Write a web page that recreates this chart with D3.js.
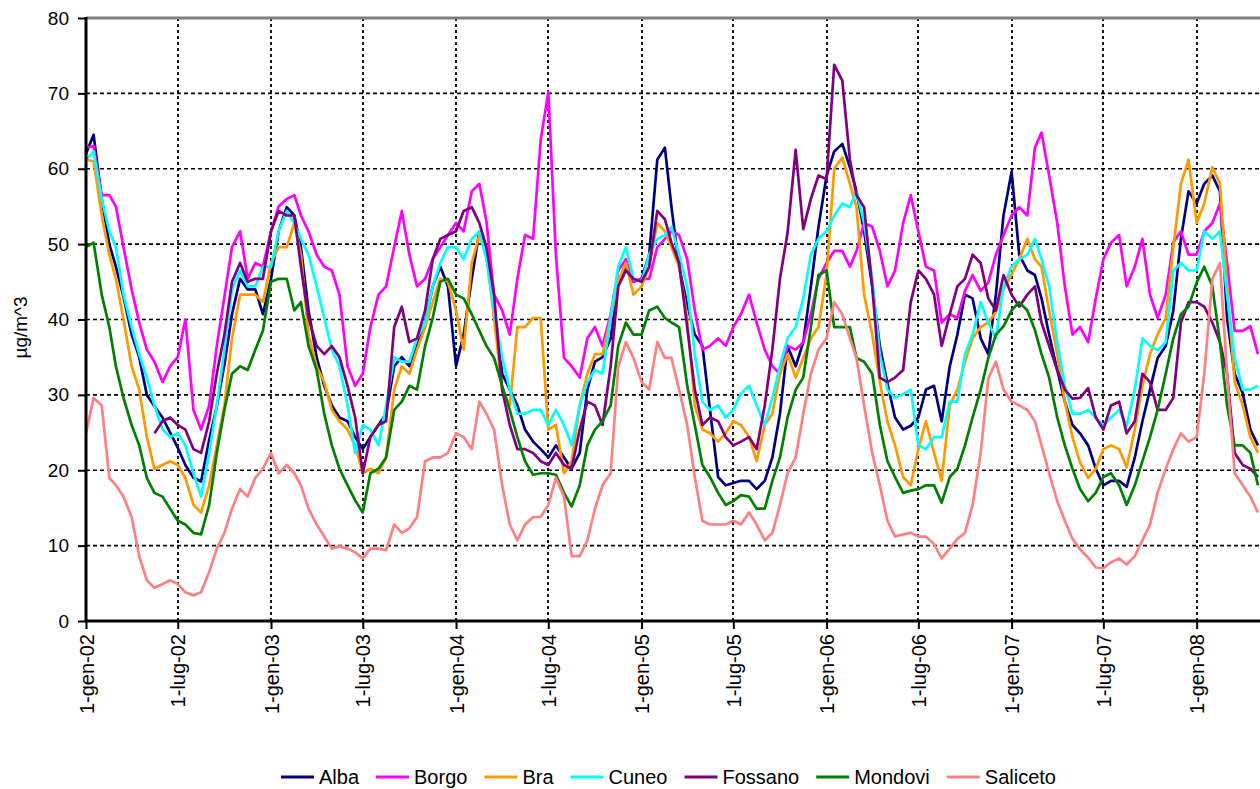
<!DOCTYPE html>
<html>
<head>
<meta charset="utf-8">
<script src="https://cdn.jsdelivr.net/npm/d3@7"></script>
<style>
  html, body { margin: 0; padding: 0; background: #fff; }
  svg { display: block; font-family: "Liberation Sans", Arial, sans-serif; }
</style>
</head>
<body>
<svg id="chart" width="1260" height="789"></svg>
<script>
// Stations and their line colours (legend order = drawing order)
const stations = ["Alba", "Borgo", "Bra", "Cuneo", "Fossano", "Mondovi", "Saliceto"];
const stationColors = ["#000080", "#FF00FF", "#FF9900", "#00FFFF", "#800080", "#008000", "#FF8080"];

// Semi-monthly readings (1st and 16th of each month) from 1 Jan 2002, µg/m^3
const alba = [
  62, 64.5, 56, 50, 47, 43, 38, 35, 30, 28.5, 27, 25, 23, 20.7, 19, 18.5, 24, 28.5, 34, 40.7, 45.4, 44, 44, 40.7, 45.4, 51.7,
  54.9, 53.8, 49.6, 41.2, 35, 31.2, 28.6, 27, 26.5, 24.4, 22.8, 24.4, 26, 27.5, 33.8, 35, 33.8, 36.5, 39.6, 44.4, 47, 44.4, 33.8, 38, 45.4, 51.7, 48.6,
  41.2, 32.8, 30.7, 28.6, 25.4, 23.8, 22.8, 21.7, 23.3, 21.7, 20.2, 22.3, 30.7, 34.4, 35, 37.5, 45, 47, 45, 45.4, 48.6, 61.2, 62.8, 54.9, 47,
  42,
  38, 36.5, 28, 19.1, 18, 18.3, 18.6, 18.6, 17.5, 18.6, 21.7, 27.5, 36.5, 33.8, 37, 44.4, 52.3, 59.1, 62.3, 63.3, 60.2, 57, 51.7, 44.4, 36.5, 31.5,
  27, 25.4, 25.9, 27, 30.7, 31.2, 26.5, 33.8, 38, 43.3, 42.8, 37.5, 35.4, 43.3, 53.8, 59.6, 48.6, 46.5, 45.9, 42.8, 38, 33.3, 29.1, 26, 24.9, 23.3,
  20.2, 18, 18.6, 18.6, 17.8, 21.7, 26.5, 30.7, 34.9, 36.5, 41.2, 50.7, 57, 55.4, 58, 59.1, 57, 40.2, 32.8, 30.2, 25.4, 23.3
];
const borgo = [
  62.8, 63, 56.5, 56.5, 55, 49.6, 44, 39.6, 36, 34.4, 31.7, 33.8, 35, 40, 28, 25.4, 28.6, 36.5, 43, 49.6, 51.7, 45.4, 47.5, 47, 51.7, 55,
  56, 56.5, 53.8, 51.7, 48.6, 47, 46.5, 43.3, 33.8, 31.2, 32.8, 39, 43.3, 44.4, 49.6, 54.4, 48.6, 44.4, 45.4, 48, 49.6, 51.2, 52.8, 51.7, 57, 58, 53,
  43.3, 41.2, 38, 45.4, 51.2, 50.7, 63.8, 70.2, 48.6, 34.9, 33.8, 32.3, 37.5, 39, 36.5, 40.7, 46.5, 48, 45, 45.4, 45.4, 49.6, 50.7, 51.7, 51.2,
  48,
  41.2, 36, 36.5, 37.5, 36.5, 39, 40.7, 43.3, 39.6, 36, 33.8, 32.8, 36.5, 36, 37, 40.7, 45.4, 47.5, 49.1, 49.1, 47, 49.1, 52.8, 52.3, 49.1, 44.4,
  46.5, 52.8, 56.5, 51.7, 47, 46.5, 39.6, 40.7, 40.2, 43.8, 45.9, 43.8, 44.9, 48.6, 51.2, 53.8, 54.9, 53.8, 62.8, 64.8, 59.1, 52.8, 44.4, 38, 39, 37,
  42.8, 48, 50.2, 51.2, 44.4, 47, 50.7, 43.3, 40.2, 43.3, 50.2, 51.7, 48.6, 48.6, 51.7, 52.8, 55.4, 47.5, 38.5, 38.5, 39.1, 35.4
];
const bra = [
  61.2, 61, 53.8, 48.6, 45.4, 40, 33.8, 30.7, 24.4, 20.2, 20.7, 21.2, 20.7, 19, 15.4, 14.4, 18, 23.3, 28.6, 37.5, 43.3, 43.3, 43.3, 42.3, 47.5, 49.6,
  49.6, 52.8, 48.6, 38, 33.8, 31.7, 28, 26.5, 25.4, 23.3, 19.6, 20.2, 19.6, 21.7, 30.7, 33.8, 32.8, 36, 39, 42.3, 45.4, 45, 41.2, 36, 47.5, 51.2, 48.6,
  40.2, 30.7, 28.6, 39, 39, 40.2, 40.2, 25.4, 26, 19.6, 21.2, 28.6, 32.8, 35.4, 35.4, 40.2, 45, 47.5, 43.3, 44.4, 47, 52.8, 51.7, 49.6, 47,
  40.2,
  28.6, 25.4, 24.9, 23.8, 24.9, 26.5, 26, 24.4, 21.2, 26, 27.5, 32.8, 35.4, 32.3, 34.9, 37.5, 39, 46, 60, 61.5, 58, 54.9, 43.3, 38, 31.7, 26.5,
  23.3, 19.1, 18, 22.8, 26.5, 22.3, 18.6, 28.6, 30.7, 34.4, 37.5, 39, 39.6, 41, 44, 46, 48, 50.7, 48, 47, 41.2, 35.4, 29.1, 24.4, 21, 19,
  20.2, 22.8, 23.3, 22.8, 20.4, 25.4, 31.2, 35.4, 38, 40.2, 49.6, 58, 61.2, 52.8, 55.4, 60.2, 58, 44.4, 31.7, 28.6, 24.4, 22.3
];
const cuneo = [
  61.2, 62.3, 56, 51.7, 49.6, 43.3, 39, 35.4, 32.3, 28.6, 25.4, 24.4, 24.9, 23.3, 19.6, 16.5, 22.3, 28.6, 36, 44, 46.5, 44.4, 44.4, 47, 47, 51.7,
  54.4, 52.8, 50.7, 48.6, 44.4, 40.2, 36, 33.8, 28.6, 22.3, 26, 25.4, 23.3, 28.6, 35, 34.4, 34.4, 37.5, 39.6, 44.4, 47.5, 49.6, 49.6, 48, 50.7, 51.7, 48,
  41.2, 34.9, 30.7, 27.5, 27.5, 28, 28, 26, 28, 26, 23.3, 28.6, 31.7, 33.3, 32.8, 40.2, 47, 49.6, 45.4, 45, 48.6, 50.7, 51.2, 52.3, 48.6,
  44.4,
  35.4, 29.1, 28, 28.6, 27, 28, 30.2, 31.2, 28.6, 26, 29.6, 33.8, 37.5, 39, 42.8, 48.6, 50.7, 51.7, 53.8, 55.4, 54.9, 57, 52.8, 45.4, 35.4, 30.7,
  29.6, 30.1, 30.7, 23.3, 22.8, 24.4, 24.4, 29.1, 29.1, 35.4, 38, 42.3, 39.6, 37.5, 44.4, 47, 48, 48.6, 50.7, 48, 44.4, 37, 31.2, 27.5, 27.5, 28,
  27, 25.9, 27, 28, 25.9, 30.7, 37.5, 36.5, 35.9, 37, 46.5, 47.5, 46.5, 46.5, 51.7, 50.7, 51.7, 43.3, 34.9, 30.7, 30.7, 31.2
];
// Fossano has no readings before mid-May 2002
const fossano = [
  null, null, null, null, null, null, null, null, null, 24.9, 26.5, 27, 26, 25.4, 22.8, 22.3, 26.5, 32.8, 38, 45, 47.5, 45, 45.4, 45.4, 51.7, 54.4,
  53.8, 53.8, 47, 40.2, 36.5, 35.4, 36.5, 35, 31.2, 27, 19.6, 24.4, 26, 26.5, 39, 41.7, 37, 37.5, 41.2, 48, 50.7, 51.2, 51.7, 54.4, 54.9, 52.8, 49.6,
  43.3, 30.7, 26, 22.8, 22.8, 22.3, 21.2, 20.7, 22.3, 20.7, 20.2, 25.4, 29.1, 28.6, 26, 33.8, 44.4, 46.5, 45.4, 45, 47, 54.4, 53.3, 50.2, 47.5,
  39,
  30.7, 26, 27, 26.5, 24.4, 23.3, 23.8, 24.4, 22.8, 28.6, 36, 45.4, 51.5, 62.5, 52, 56, 59.1, 58.6, 73.8, 71.7, 61.2, 56.5, 54.9, 44.4, 32.3, 31.7,
  32.3, 33.3, 42.3, 46.5, 45.4, 43.3, 36.5, 40.7, 44.4, 45.4, 48.6, 47.5, 42.8, 41.2, 45.9, 43.3, 41.7, 43.3, 44.4, 39.6, 36.5, 33.3, 30.7, 29.5, 29.6, 30.9,
  27, 25.4, 28.6, 29.1, 24.9, 26.5, 32.8, 31.7, 28, 28, 29.6, 39.6, 42.3, 42.3, 41.7, 39.6, 37, 32.8, 22.3, 20.7, 20.2, 19.1
];
const mondovi = [
  49.6, 50.2, 43.3, 39, 33.8, 29.6, 26, 23.3, 19, 17, 16.5, 14.9, 13.3, 12.8, 11.7, 11.5, 15.4, 22.3, 28, 32.8, 33.8, 33.3, 36, 38.5, 45, 45.4,
  45.4, 41.2, 42.3, 36.5, 33.3, 27.5, 23.3, 20.2, 18, 16, 14.4, 19.6, 20.2, 21.7, 28, 29.1, 31.2, 30.7, 36.5, 40.2, 45, 45.4, 43.3, 42.8, 40.7, 38.5, 36.5,
  34.9, 31.2, 28, 24.4, 21.2, 19.4, 19.6, 19.6, 19.4, 17, 15.2, 18, 23.3, 25.4, 26.5, 28.6, 36.5, 39.6, 38, 38, 41.2, 41.7, 40.2, 39.6, 39,
  31.2,
  26, 20.7, 19.1, 17, 15.4, 15.9, 16.7, 16.5, 14.9, 14.9, 18.6, 21.7, 27, 30.7, 32.3, 39, 45.9, 46.5, 39, 39, 39, 34.9, 34.4, 32.8, 26, 21.2,
  19.1, 17, 17.3, 17.5, 18, 18, 15.7, 19.1, 20.2, 23.3, 27, 30.7, 34.9, 38, 39.1, 41.2, 42.3, 41.2, 38.6, 35.4, 32.3, 27, 23.3, 20.2, 17.5, 15.9,
  17, 19.1, 19.6, 18, 15.4, 18, 21.2, 24.4, 28, 32.8, 37.5, 40.7, 41.7, 44.9, 47, 44.4, 37, 28.6, 23.3, 23.3, 22.3, 18
];
const saliceto = [
  24.9, 29.6, 28.6, 19, 18, 16.5, 13.8, 8.6, 5.4, 4.4, 4.9, 5.4, 4.9, 3.8, 3.4, 3.8, 6.5, 9.6, 11.7, 14.9, 17.5, 16.5, 19, 20.2, 22.3, 19.6,
  20.7, 19.6, 18, 14.9, 12.8, 11.2, 9.6, 9.9, 9.6, 9.1, 8.3, 9.6, 9.6, 9.4, 12.8, 11.7, 12.3, 13.8, 21.2, 21.7, 21.7, 22.3, 24.9, 24.4, 22.8, 29.1, 27.5,
  25.4, 18, 12.8, 10.7, 12.8, 13.8, 13.8, 15.4, 19, 16.5, 8.6, 8.6, 10.7, 14.9, 18, 19.6, 33.8, 37, 34.9, 31.7, 30.7, 37, 34.9, 34.9, 30.7,
  26,
  19.1, 13.3, 12.8, 12.8, 12.8, 13.3, 12.8, 14.4, 12.8, 10.7, 11.7, 15.4, 19.6, 21.7, 27.5, 32.8, 36, 37.5, 42.3, 40.7, 37.5, 34.9, 28.6, 22.3, 18, 13.3,
  11.2, 11.5, 11.7, 11.2, 11.2, 10.2, 8.3, 9.6, 10.9, 11.7, 15.4, 22.3, 32.2, 34.4, 30.7, 29.1, 28.6, 28, 26.5, 23.3, 19.6, 15.9, 13.3, 10.9, 9.5, 8.4,
  7.1, 7, 7.8, 8.3, 7.5, 8.6, 10.7, 12.8, 17, 20.2, 22.8, 24.9, 23.8, 24.4, 32.8, 45.4, 47.5, 32.8, 19.6, 18, 16.5, 14.4
];
const seriesValues = [alba, borgo, bra, cuneo, fossano, mondovi, saliceto];

// Axis ticks
const yTicks = [0, 10, 20, 30, 40, 50, 60, 70, 80];
const xTickDates = ["2002-01-01", "2002-07-01", "2003-01-01", "2003-07-01", "2004-01-01", "2004-07-01",
                    "2005-01-01", "2005-07-01", "2006-01-01", "2006-07-01", "2007-01-01", "2007-07-01", "2008-01-01"];
const xTickLabels = ["1-gen-02", "1-lug-02", "1-gen-03", "1-lug-03", "1-gen-04", "1-lug-04",
                     "1-gen-05", "1-lug-05", "1-gen-06", "1-lug-06", "1-gen-07", "1-lug-07", "1-gen-08"];
const yTitle = "\u00b5g/m^3";

// ---- layout ----
const W = 1260, H = 789;
const plot = { left: 86, right: 1260, top: 18, bottom: 621 };

const parse = d3.timeParse("%Y-%m-%d");
const x = d3.scaleTime()
  .domain([new Date(2002, 0, 1), new Date(2008, 4, 5)])
  .range([plot.left, plot.right]);
const y = d3.scaleLinear().domain([0, 80]).range([plot.bottom, plot.top]);

// reading i falls on the 1st (even i) or 16th (odd i) of month floor(i/2)
const dateOf = i => new Date(2002, Math.floor(i / 2), i % 2 ? 16 : 1);

const svg = d3.select("#chart");
svg.append("rect").attr("width", W).attr("height", H).attr("fill", "#fff");

// gridlines
const grid = svg.append("g");
grid.selectAll("line.h")
  .data(yTicks.filter(v => v > 0 && v < 80))
  .join("line")
  .attr("x1", plot.left).attr("x2", plot.right)
  .attr("y1", d => y(d)).attr("y2", d => y(d))
  .attr("stroke", "#000").attr("stroke-width", 1.6)
  .attr("stroke-dasharray", "4,3");
grid.selectAll("line.v")
  .data(xTickDates.slice(1).map(parse))
  .join("line")
  .attr("x1", d => Math.round(x(d))).attr("x2", d => Math.round(x(d)))
  .attr("y1", plot.top).attr("y2", plot.bottom)
  .attr("stroke", "#000").attr("stroke-width", 1.8)
  .attr("stroke-dasharray", "3,3");

// top border of the plot area
svg.append("line")
  .attr("x1", plot.left).attr("x2", plot.right)
  .attr("y1", plot.top).attr("y2", plot.top)
  .attr("stroke", "#808080").attr("stroke-width", 3);

// series lines
svg.append("clipPath").attr("id", "plotClip")
  .append("rect")
  .attr("x", plot.left).attr("y", plot.top - 2)
  .attr("width", plot.right - plot.left).attr("height", plot.bottom - plot.top + 2);

const line = d3.line()
  .defined(d => d.v != null)
  .x(d => x(d.date))
  .y(d => y(d.v));

const linesG = svg.append("g").attr("clip-path", "url(#plotClip)");
stations.forEach((name, k) => {
  const pts = seriesValues[k].map((v, i) => ({ date: dateOf(i), v }));
  linesG.append("path")
    .datum(pts)
    .attr("fill", "none")
    .attr("stroke", stationColors[k])
    .attr("stroke-width", 2.7)
    .attr("stroke-linejoin", "round")
    .attr("d", line);
});

// y axis
const yAxis = d3.axisLeft(y).tickValues(yTicks).tickSize(8).tickPadding(9).tickFormat(d3.format("d"));
const gy = svg.append("g").attr("transform", `translate(${plot.left},0)`).call(yAxis);
gy.select(".domain").remove();
gy.selectAll(".tick line").attr("stroke", "#000").attr("stroke-width", 2);
gy.selectAll(".tick text").attr("font-size", 19).attr("fill", "#000")
  .attr("font-family", "'Liberation Sans', Arial, sans-serif");

// x axis
const xAxis = d3.axisBottom(x)
  .tickValues(xTickDates.map(parse))
  .tickSize(8)
  .tickFormat((d, i) => xTickLabels[i]);
const gx = svg.append("g").attr("transform", `translate(0,${plot.bottom})`).call(xAxis);
gx.select(".domain").remove();
gx.selectAll(".tick line").attr("stroke", "#000").attr("stroke-width", 2);
gx.selectAll(".tick text")
  .attr("font-size", 20).attr("fill", "#000")
  .attr("font-family", "'Liberation Sans', Arial, sans-serif")
  .attr("transform", "rotate(-90)")
  .attr("text-anchor", "end")
  .attr("x", -13).attr("y", 0).attr("dy", "0.36em");

// axis lines
svg.append("line")
  .attr("x1", plot.left).attr("x2", plot.left)
  .attr("y1", plot.top - 1).attr("y2", plot.bottom + 1)
  .attr("stroke", "#000").attr("stroke-width", 3);
svg.append("line")
  .attr("x1", plot.left - 1).attr("x2", plot.right)
  .attr("y1", plot.bottom).attr("y2", plot.bottom)
  .attr("stroke", "#000").attr("stroke-width", 3);

// y axis title
svg.append("text")
  .attr("transform", `translate(27,${(plot.top + plot.bottom) / 2 + 8}) rotate(-90)`)
  .attr("text-anchor", "middle")
  .attr("font-size", 19).attr("fill", "#000")
  .text(yTitle);

// legend
const legend = svg.append("g").attr("transform", "translate(281,777)");
let lx = 0;
stations.forEach((name, k) => {
  const item = legend.append("g").attr("transform", `translate(${lx},0)`);
  item.append("line")
    .attr("x1", 0).attr("x2", 33).attr("y1", 0).attr("y2", 0)
    .attr("stroke", stationColors[k]).attr("stroke-width", 3);
  const t = item.append("text")
    .attr("x", 38).attr("y", 7)
    .attr("font-size", 20).attr("fill", "#000")
    .text(name);
  lx += 38 + t.node().getComputedTextLength() + 17;
});
</script>
</body>
</html>
